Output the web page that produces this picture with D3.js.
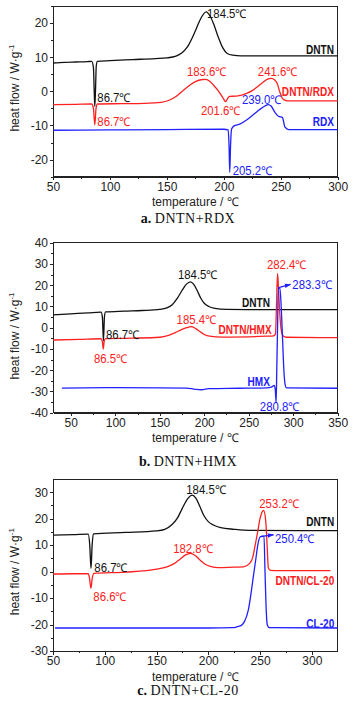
<!DOCTYPE html>
<html lang="en">
<head>
<meta charset="utf-8">
<title>DSC curves</title>
<script src="https://cdn.jsdelivr.net/npm/d3@7"></script>
<style>
body { margin: 0; background: #fff; }
svg { display: block; }
.axis path, .axis line { stroke: #222; shape-rendering: crispEdges; }
.axis text { font-family: "Liberation Sans", Arial, sans-serif; font-size: 12px; fill: #222; }
.lbl { font-family: "Liberation Sans", Arial, sans-serif; font-size: 12px; }
.name { font-family: "Liberation Sans", Arial, sans-serif; font-size: 12px; font-weight: bold; }
.ttl { font-family: "Liberation Sans", Arial, sans-serif; font-size: 12px; fill: #222; }
.cap { font-family: "Liberation Serif", serif; font-size: 14px; fill: #111; }
</style>
</head>
<body>
<div id="chart"></div>
<script>
// ---- data: [temperature, heat flow] ----
var rdxDntn = [[50,8.3],[60,8.5],[70,8.6],[80,8.7],[84,8.8],[85.5,7],[86.2,0],[86.7,-4.4],[87.3,0],[88,7.5],[89,8.8],[100,9.0],[120,9.3],[140,9.6],[150,9.8],[158,10.3],[163,11.2],[168,13],[172,15.5],[176,18.5],[180,21.5],[184.5,23.3],[188,22],[191,19.8],[195,16],[199,12.8],[203,11.1],[208,10.6],[215,10.4],[230,10.4],[300,10.4]];
var rdxMix = [[50,-3.9],[70,-3.8],[84,-3.7],[85.5,-5],[86.7,-9.8],[87.8,-5],[89,-3.7],[110,-3.6],[130,-3.5],[145,-3.2],[152,-2.6],[158,-1.5],[164,0.2],[170,1.8],[176,3],[180,3.4],[183.6,3.5],[187,3.1],[191,1.8],[195,0.2],[199,-1.8],[201.6,-3.0],[203.5,-2],[205,-1.5],[210,-1.4],[215,-1.2],[220,-0.6],[225,0.2],[230,1.5],[235,2.8],[238,3.5],[241.6,3.8],[244.5,3.4],[247,2.2],[249,0],[251,-1.8],[253,-2.5],[256,-2.8],[270,-2.8],[300,-2.8]];
var rdxPure = [[50,-11.4],[100,-11.3],[150,-11.2],[200,-11.1],[203.8,-11.3],[204.6,-16],[205.2,-23.7],[205.9,-16],[206.8,-11],[209,-10.1],[214,-9.6],[220,-8.4],[226,-6.8],[231.5,-5.3],[236,-4.3],[239,-3.9],[241.5,-4.3],[245,-6.2],[248,-7.3],[251.5,-7.7],[253.7,-10.5],[257,-11.2],[270,-11.2],[300,-11.2]];

var hmxDntn = [[30,6.0],[50,6.5],[70,7.0],[84,7.3],[85.5,5],[86.7,-6.1],[87.8,5],[89,7.4],[110,7.8],[130,8.1],[150,8.6],[158,9.3],[164,10.8],[170,14],[175,17.5],[180,20.5],[184.5,21.6],[188,20.5],[192,17.5],[196,14],[200,11.5],[205,10],[212,9.1],[225,8.6],[260,8.5],[350,8.5]];
var hmxMix = [[30,-5.8],[60,-5.5],[84,-5.2],[85.5,-6.5],[86.5,-10],[87.5,-6.5],[89,-5.1],[120,-4.9],[150,-4.5],[160,-3.6],[168,-2.2],[175,-0.8],[180,0],[185.4,0.5],[190,-0.3],[195,-1.8],[200,-3.2],[206,-4.0],[220,-4.4],[250,-4.3],[270,-4.0],[278,-3.8],[280,-3],[281.2,10],[282.4,25.6],[283.5,18],[285,6],[286.5,-1],[288.5,-3.8],[292,-4.5],[350,-4.7]];
var hmxPure = [[40,-28.4],[100,-28.2],[150,-28.3],[180,-28.4],[190,-29.0],[197,-29.2],[205,-28.7],[240,-28.5],[270,-28.3],[276,-27.8],[278.5,-27.2],[279.8,-29],[280.8,-35.3],[281.5,-20],[282.4,0],[283.3,18.7],[285,18.5],[286.5,10],[288,-5],[289.5,-20],[291,-27],[292.5,-28.3],[350,-28.5]];

var clDntn = [[50,13.8],[70,14.0],[84,14.2],[85.5,10],[86.7,1.2],[87.8,10],[89,14.3],[120,14.8],[150,15.4],[158,16],[165,17.8],[170,20.1],[175,24],[180,27.5],[184.5,28.9],[188,27.8],[192,24.5],[196,21],[200,18.9],[205,17.6],[212,16.6],[225,16],[240,15.6],[325,15.5]];
var clMix = [[50,-0.9],[70,-0.8],[84,-0.8],[85.3,-2.5],[86.6,-6.3],[87.9,-2.5],[89.5,-0.7],[120,-0.2],[150,0.9],[160,1.8],[167,3.0],[173,4.8],[178,6.3],[182.8,6.9],[187,6.2],[192,4.4],[197,2.8],[202,2.0],[210,1.5],[225,1.7],[234,1.8],[240,3.1],[243,5.5],[245,9.4],[247.5,14.5],[250,20.1],[253.5,23.1],[255.5,19],[256.8,10],[258,1.5],[260,0.5],[270,0.4],[318,0.35]];
var clPure = [[52,-21.3],[100,-21.3],[150,-21.3],[200,-21.3],[224,-21.2],[228,-20.8],[232,-20.3],[235,-18.8],[238.7,-14.5],[241,-9],[243.5,-1.9],[246,5],[248,10.5],[250.4,13.2],[252,13.3],[253.8,13.4],[254.8,0],[255.7,-12],[257,-20.2],[259,-21.2],[325,-21.3]];

// ---- annotations: [text, temperature, heat flow, anchor, series] ----
var rdxLabels = [["184.5℃",185.2,22.7,"start",0],["DNTN",296.7,12.2,"end",0],["183.6℃",185.2,5.8,"middle",1],["241.6℃",247.5,5.8,"middle",1],
  ["DNTN/RDX",296.7,0,"end",1],["86.7℃",88.9,-1.8,"start",0],["201.6℃",197.5,-5.7,"middle",1],["239.0℃",233.5,-2.3,"middle",2],
  ["86.7℃",88.9,-8.8,"start",1],["RDX",296.7,-8.8,"end",2],["205.2℃",207.8,-23.1,"start",2]];
var hmxLabels = [["184.5℃",193,24.8,"middle",0],["282.4℃",293,29.5,"middle",1],["283.3℃",299,20.1,"start",2],["DNTN",273.9,11.8,"end",0],
  ["185.4℃",191.5,3.6,"middle",1],["DNTN/HMX",275.8,-0.75,"end",1],["86.7℃",89.6,-3.1,"start",0],["86.5℃",95,-14.4,"middle",1],
  ["HMX",273.9,-25.4,"end",2],["280.8℃",285.1,-37.2,"middle",2]];
var clLabels = [["184.5℃",198.1,31.1,"middle",0],["253.2℃",268.6,25.8,"middle",1],["DNTN",321.7,18.9,"end",0],["250.4℃",264.4,12.3,"start",2],
  ["182.8℃",185.5,8.8,"middle",1],["86.7℃",89.9,1.6,"start",0],["DNTN/CL-20",321.7,-3.4,"end",1],["86.6℃",105.3,-9.5,"middle",1],
  ["CL-20",321.7,-19.5,"end",2]];
var nameLabels = ["DNTN","DNTN/RDX","RDX","DNTN/HMX","HMX","DNTN/CL-20","CL-20"];

// ---- arrows from peak to label: [t0, h0, t1, h1] ----
var hmxArrow = [283.6, 18.9, 297, 20.4];
var clArrow = [251.2, 13.3, 263, 13.9];

var colors = ["#111", "#ff2020", "#2020ff"];

var panels = [
  {x0: 53, x1: 337.7, y0: 6, y1: 176.7, xd: [50, 300], yd: [-25, 25], xt: d3.range(50, 301, 50), yt: d3.range(-20, 21, 10),
   xm: d3.range(75, 300, 50), ym: d3.range(-25, 26, 10), series: [rdxDntn, rdxMix, rdxPure], labels: rdxLabels, arrow: null,
   cap: ["a.", "DNTN+RDX"], capY: 223, xTitleY: 206, yTitleY: 88},
  {x0: 53, x1: 337.7, y0: 242.7, y1: 412.7, xd: [30, 350], yd: [-40, 40], xt: d3.range(50, 351, 50), yt: d3.range(-40, 41, 10),
   xm: d3.range(75, 350, 50), ym: d3.range(-35, 36, 10), series: [hmxDntn, hmxMix, hmxPure], labels: hmxLabels, arrow: hmxArrow,
   cap: ["b.", "DNTN+HMX"], capY: 466, xTitleY: 442, yTitleY: 336},
  {x0: 53, x1: 337.7, y0: 479, y1: 651, xd: [50, 325], yd: [-30, 35], xt: d3.range(50, 301, 50), yt: d3.range(-30, 31, 10),
   xm: d3.range(75, 325, 50), ym: d3.range(-25, 35, 10), series: [clDntn, clMix, clPure], labels: clLabels, arrow: clArrow,
   cap: ["c.", "DNTN+CL-20"], capY: 695, xTitleY: 681, yTitleY: 571.7}
];

var svg = d3.select("#chart").append("svg").attr("width", 353).attr("height", 701);

svg.append("defs").append("marker")
   .attr("id", "head").attr("viewBox", "0 0 10 10").attr("refX", 9).attr("refY", 5)
   .attr("markerWidth", 5).attr("markerHeight", 5).attr("orient", "auto")
   .append("path").attr("d", "M0,1.5L10,5L0,8.5Z").attr("fill", colors[2]);

panels.forEach(function(p) {
  var x = d3.scaleLinear().domain(p.xd).range([p.x0, p.x1]);
  var y = d3.scaleLinear().domain(p.yd).range([p.y1, p.y0]);
  var g = svg.append("g");

  // minor ticks
  g.append("g").attr("class", "axis").attr("transform", "translate(0," + p.y1 + ")")
   .call(d3.axisBottom(x).tickValues(p.xm).tickSize(2).tickSizeOuter(0).tickFormat(""));
  g.append("g").attr("class", "axis").attr("transform", "translate(" + p.x0 + ",0)")
   .call(d3.axisLeft(y).tickValues(p.ym).tickSize(2).tickSizeOuter(0).tickFormat(""));
  // major ticks
  g.append("g").attr("class", "axis").attr("transform", "translate(0," + p.y1 + ")")
   .call(d3.axisBottom(x).tickValues(p.xt).tickSize(3.5).tickPadding(2).tickSizeOuter(0));
  g.append("g").attr("class", "axis").attr("transform", "translate(" + p.x0 + ",0)")
   .call(d3.axisLeft(y).tickValues(p.yt).tickSize(3.5).tickPadding(1.5).tickSizeOuter(0))
   .selectAll("text").text(function(d) { return d; });

  g.append("rect").attr("x", p.x0).attr("y", p.y0).attr("width", p.x1 - p.x0).attr("height", p.y1 - p.y0)
   .attr("fill", "none").attr("stroke", "#222").attr("shape-rendering", "crispEdges");

  var line = d3.line().x(function(d) { return x(d[0]); }).y(function(d) { return y(d[1]); })
               .curve(d3.curveMonotoneX);
  p.series.forEach(function(s, i) {
    g.append("path").datum(s).attr("d", line).attr("fill", "none")
     .attr("stroke", colors[i]).attr("stroke-width", 1.3).attr("stroke-linejoin", "round");
  });

  if (p.arrow) {
    g.append("line").attr("x1", x(p.arrow[0])).attr("y1", y(p.arrow[1]))
     .attr("x2", x(p.arrow[2])).attr("y2", y(p.arrow[3]))
     .attr("stroke", colors[2]).attr("stroke-width", 1.3).attr("marker-end", "url(#head)");
  }

  // peak values and series names; names are drawn condensed like the original
  g.selectAll(".ann").data(p.labels).enter().append("text")
   .attr("class", function(d) { return nameLabels.indexOf(d[0]) >= 0 ? "name" : "lbl"; })
   .attr("transform", function(d) {
     var s = nameLabels.indexOf(d[0]) >= 0 ? 0.84 : 0.95;
     return "translate(" + x(d[1]) + "," + y(d[2]) + ") scale(" + s + ",1)";
   })
   .attr("dy", "0.36em")
   .attr("text-anchor", function(d) { return d[3]; })
   .attr("fill", function(d) { return colors[d[4]]; })
   .text(function(d) { return d[0]; });

  g.append("text").attr("class", "ttl").attr("x", (p.x0 + p.x1) / 2).attr("y", p.xTitleY)
   .attr("text-anchor", "middle").text("temperature / ℃");

  var yt = g.append("text").attr("class", "ttl")
   .attr("transform", "translate(19," + p.yTitleY + ") rotate(-90)").attr("text-anchor", "middle");
  yt.append("tspan").text("heat flow / W·g");
  yt.append("tspan").attr("dy", -5).attr("font-size", 8).text("-1");

  var cap = g.append("text").attr("class", "cap").attr("x", 188).attr("y", p.capY).attr("text-anchor", "middle");
  cap.append("tspan").attr("font-weight", "bold").text(p.cap[0] + " ");
  cap.append("tspan").attr("letter-spacing", 0.5).text(p.cap[1]);
});
</script>
</body>
</html>
